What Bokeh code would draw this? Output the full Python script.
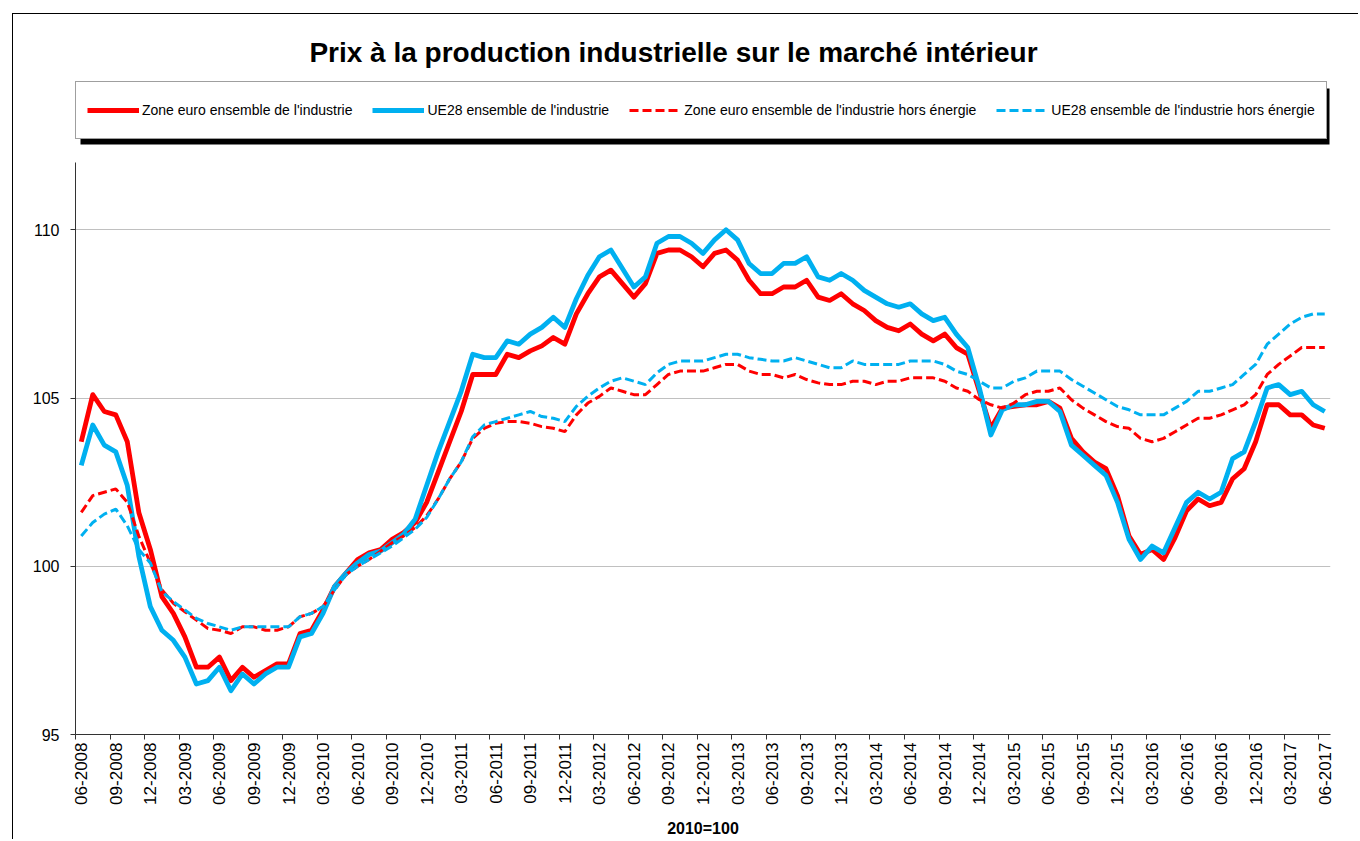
import math
from bokeh.plotting import figure
from bokeh.layouts import column
from bokeh.models import Range1d, FixedTicker, Legend, LegendItem, Label, BoxAnnotation
from bokeh.embed import file_html
from bokeh.resources import INLINE

# ---- categories (monthly, 06-2008 .. 06-2017) ----
all_months = [f"{m:02d}-{y}" for y in range(2008, 2018) for m in range(1, 13)]
months = all_months[all_months.index("06-2008"): all_months.index("06-2017") + 1]

# ---- series values ----
zone_euro_ind = [
    103.7, 105.1, 104.6, 104.5, 103.7, 101.6, 100.5, 99.1, 98.6, 97.9,
    97.0, 97.0, 97.3, 96.6, 97.0, 96.7, 96.9, 97.1, 97.1, 98.0,
    98.1, 98.7, 99.4, 99.8, 100.2, 100.4, 100.5, 100.8, 101.0, 101.3,
    101.9, 102.8, 103.7, 104.6, 105.7, 105.7, 105.7, 106.3, 106.2, 106.4,
    106.55, 106.8, 106.6, 107.5, 108.1, 108.6, 108.8, 108.4, 108.0, 108.4,
    109.3, 109.4, 109.4, 109.2, 108.9, 109.3, 109.4, 109.1, 108.5, 108.1,
    108.1, 108.3, 108.3, 108.5, 108.0, 107.9, 108.1, 107.8, 107.6, 107.3,
    107.1, 107.0, 107.2, 106.9, 106.7, 106.9, 106.5, 106.3, 105.2, 104.1,
    104.7, 104.75, 104.8, 104.8, 104.9, 104.7, 103.8, 103.4, 103.1, 102.9,
    102.1, 100.9, 100.35, 100.5, 100.2, 100.85, 101.65, 102.0, 101.8, 101.9,
    102.6, 102.9, 103.7, 104.8, 104.8, 104.5, 104.5, 104.2, 104.1,
]
ue28_ind = [
    103.0, 104.2, 103.6, 103.4, 102.4, 100.3, 98.8, 98.1, 97.8, 97.3,
    96.5, 96.6, 97.0, 96.3, 96.8, 96.5, 96.8, 97.0, 97.0, 97.9,
    98.0, 98.6, 99.4, 99.8, 100.1, 100.35, 100.45, 100.7, 100.95, 101.4,
    102.4, 103.4, 104.3, 105.2, 106.3, 106.2, 106.2, 106.7, 106.6, 106.9,
    107.1, 107.4, 107.1, 107.95, 108.65, 109.2, 109.4, 108.85, 108.3, 108.6,
    109.6, 109.8, 109.8, 109.6, 109.3, 109.7, 110.0, 109.7, 109.0, 108.7,
    108.7, 109.0, 109.0, 109.2, 108.6, 108.5, 108.7, 108.5, 108.2, 108.0,
    107.8, 107.7, 107.8, 107.5, 107.3, 107.4, 106.9, 106.5, 105.3, 103.9,
    104.65, 104.8, 104.8, 104.9, 104.9, 104.6, 103.6, 103.3, 103.0, 102.7,
    101.9, 100.8, 100.2, 100.6, 100.4, 101.15, 101.9, 102.2, 102.0, 102.2,
    103.2, 103.4, 104.3, 105.3, 105.4, 105.1, 105.2, 104.8, 104.6,
]
zone_euro_hors_energie = [
    101.6, 102.1, 102.2, 102.3, 101.9, 100.9, 100.1, 99.3, 98.9, 98.65,
    98.4, 98.15, 98.1, 98.0, 98.2, 98.2, 98.1, 98.1, 98.2, 98.5,
    98.6, 98.8, 99.3, 99.75, 100.0, 100.2, 100.45, 100.7, 100.9, 101.15,
    101.5, 102.0, 102.6, 103.1, 103.8, 104.1, 104.25, 104.3, 104.3, 104.25,
    104.15, 104.1, 104.0, 104.5, 104.85, 105.05, 105.3, 105.2, 105.1, 105.1,
    105.4, 105.7, 105.8, 105.8, 105.8, 105.9, 106.0, 106.0, 105.8, 105.7,
    105.7, 105.6, 105.7, 105.55, 105.45, 105.4, 105.4, 105.5, 105.5, 105.4,
    105.5, 105.5, 105.6, 105.6, 105.6, 105.5, 105.3, 105.2, 104.95, 104.8,
    104.7, 104.85, 105.1, 105.2, 105.2, 105.3, 104.95, 104.7, 104.5, 104.3,
    104.15, 104.1, 103.8, 103.7, 103.8, 104.0, 104.2, 104.4, 104.4, 104.5,
    104.65, 104.8, 105.1, 105.7, 106.0, 106.25, 106.5, 106.5, 106.5,
]
ue28_hors_energie = [
    100.9, 101.3, 101.55, 101.7, 101.2, 100.5, 100.1, 99.25, 98.95, 98.7,
    98.45, 98.3, 98.2, 98.1, 98.2, 98.2, 98.2, 98.2, 98.2, 98.5,
    98.6, 98.8, 99.3, 99.75, 100.0, 100.2, 100.4, 100.6, 100.85, 101.1,
    101.45, 102.0, 102.6, 103.1, 103.85, 104.2, 104.3, 104.4, 104.5, 104.6,
    104.45, 104.4, 104.3, 104.75, 105.05, 105.3, 105.5, 105.6, 105.5, 105.4,
    105.75, 106.0, 106.1, 106.1, 106.1, 106.2, 106.3, 106.3, 106.2, 106.15,
    106.1, 106.1, 106.2, 106.1, 106.0, 105.9, 105.9, 106.1, 106.0, 106.0,
    106.0, 106.0, 106.1, 106.1, 106.1, 106.0, 105.8, 105.7, 105.5, 105.3,
    105.3, 105.5, 105.6, 105.8, 105.8, 105.8, 105.55, 105.35, 105.15, 104.95,
    104.75, 104.65, 104.5, 104.5, 104.5, 104.7, 104.9, 105.2, 105.2, 105.3,
    105.4, 105.7, 106.0, 106.6, 106.9, 107.2, 107.4, 107.5, 107.5,
]

series_names = [
    "Zone euro ensemble de l'industrie",
    "UE28 ensemble de l'industrie",
    "Zone euro ensemble de l'industrie hors énergie",
    "UE28 ensemble de l'industrie hors énergie",
]
y_ticks = [95, 100, 105, 110]
title_text = "Prix à la production industrielle sur le marché intérieur"
base_text = "2010=100"

all_series = [zone_euro_ind, ue28_ind, zone_euro_hors_energie, ue28_hors_energie]
for s in all_series:
    assert len(s) == len(months)

RED = "#FF0000"
BLUE = "#00B0F0"
FONT = "Liberation Sans"
styles_series = [
    dict(line_color=RED, line_width=4.8, line_join="round"),
    dict(line_color=BLUE, line_width=4.8, line_join="round"),
    dict(line_color=RED, line_width=3, line_dash="9 4"),
    dict(line_color=BLUE, line_width=3, line_dash="9 4"),
]

W = 1345
HEAD_H = 148
MAIN_H = 677
xs = list(range(len(months)))

# ------------------------------------------------------------------
# header: title + legend. In the column its frame is aligned with the
# chart frame (page x 75..1330); ranges map one unit to one page pixel.
# ------------------------------------------------------------------
head = figure(
    width=W, height=HEAD_H, output_backend="svg", toolbar_location=None,
    x_axis_type=None, y_axis_type=None, title_location=None,
    x_range=Range1d(75, 1330), y_range=Range1d(14 + HEAD_H, 14),
    min_border=0, min_border_left=0, min_border_right=0, min_border_top=0, min_border_bottom=0,
)
head.outline_line_color = None
head.background_fill_color = "white"
head.border_fill_color = "white"

head.add_layout(Label(
    x=673, y=52, text=title_text, text_font=FONT, text_font_size="28px",
    text_font_style="bold", text_align="center", text_baseline="middle", text_color="black",
))

# legend drop shadow
head.add_layout(BoxAnnotation(
    left=80, right=1329, top=88, bottom=144,
    fill_color="black", fill_alpha=1, line_color=None, level="underlay",
))

# hidden copies of the series, only used to draw the legend glyphs
legend_lines = [head.line(xs, vals, visible=False, **st) for vals, st in zip(all_series, styles_series)]
legend = Legend(
    items=[LegendItem(label=n, renderers=[r]) for n, r in zip(series_names, legend_lines)],
    location=(0, 23), orientation="horizontal",
    padding=11, spacing=20, glyph_width=52, glyph_height=34, label_height=34,
    label_standoff=3, margin=0,
    label_text_font=FONT, label_text_font_size="14px", label_text_color="black",
    border_line_color="#404040", background_fill_color="white", background_fill_alpha=1,
    inactive_fill_alpha=0,
)
head.add_layout(legend)

# ------------------------------------------------------------------
# main chart
# ------------------------------------------------------------------
label_idx = list(range(0, len(months), 3))

p = figure(
    width=W, height=MAIN_H,
    output_backend="svg", toolbar_location=None, title_location=None,
    x_range=Range1d(-0.5, len(months) - 0.5),
    y_range=Range1d(95, 112),
    min_border_left=62, min_border_right=28, min_border_top=0, min_border_bottom=103,
)
p.outline_line_color = None
p.background_fill_color = "white"
p.border_fill_color = "white"

xax = p.xaxis[0]
xax.ticker = FixedTicker(ticks=label_idx, minor_ticks=[i - 0.5 for i in label_idx])
xax.major_label_overrides = {i: months[i] for i in label_idx}
xax.major_label_orientation = math.pi / 2
xax.major_tick_out = 0
xax.major_tick_in = 0
xax.minor_tick_out = 5
xax.minor_tick_in = 0
xax.minor_tick_line_color = "#333333"
xax.axis_line_color = "#333333"
xax.major_label_text_font = FONT
xax.major_label_text_font_size = "17px"
xax.major_label_text_color = "black"
xax.major_label_standoff = 3
xax.axis_label = base_text
xax.axis_label_text_font = FONT
xax.axis_label_text_font_size = "16px"
xax.axis_label_text_font_style = "bold"
xax.axis_label_text_color = "black"
xax.axis_label_standoff = 12

yax = p.yaxis[0]
yax.ticker = FixedTicker(ticks=y_ticks)
yax.major_tick_out = 5
yax.major_tick_in = 0
yax.minor_tick_out = 0
yax.minor_tick_in = 0
yax.major_tick_line_color = "#333333"
yax.axis_line_color = "#333333"
yax.major_label_text_font = FONT
yax.major_label_text_font_size = "16px"
yax.major_label_text_color = "black"
yax.major_label_standoff = 11

p.xgrid.visible = False
p.ygrid[0].ticker = FixedTicker(ticks=y_ticks)
p.ygrid.grid_line_color = "#C0C0C0"
p.ygrid.grid_line_width = 1

for vals, st in zip(all_series, styles_series):
    p.line(xs, vals, **st)

page = column(
    head, p, spacing=0,
    margin=(13, 0, 0, 12),
    styles={"border-left": "1px solid #000000", "border-top": "1px solid #000000"},
)

open("out.html", "w").write(file_html(page, INLINE))
